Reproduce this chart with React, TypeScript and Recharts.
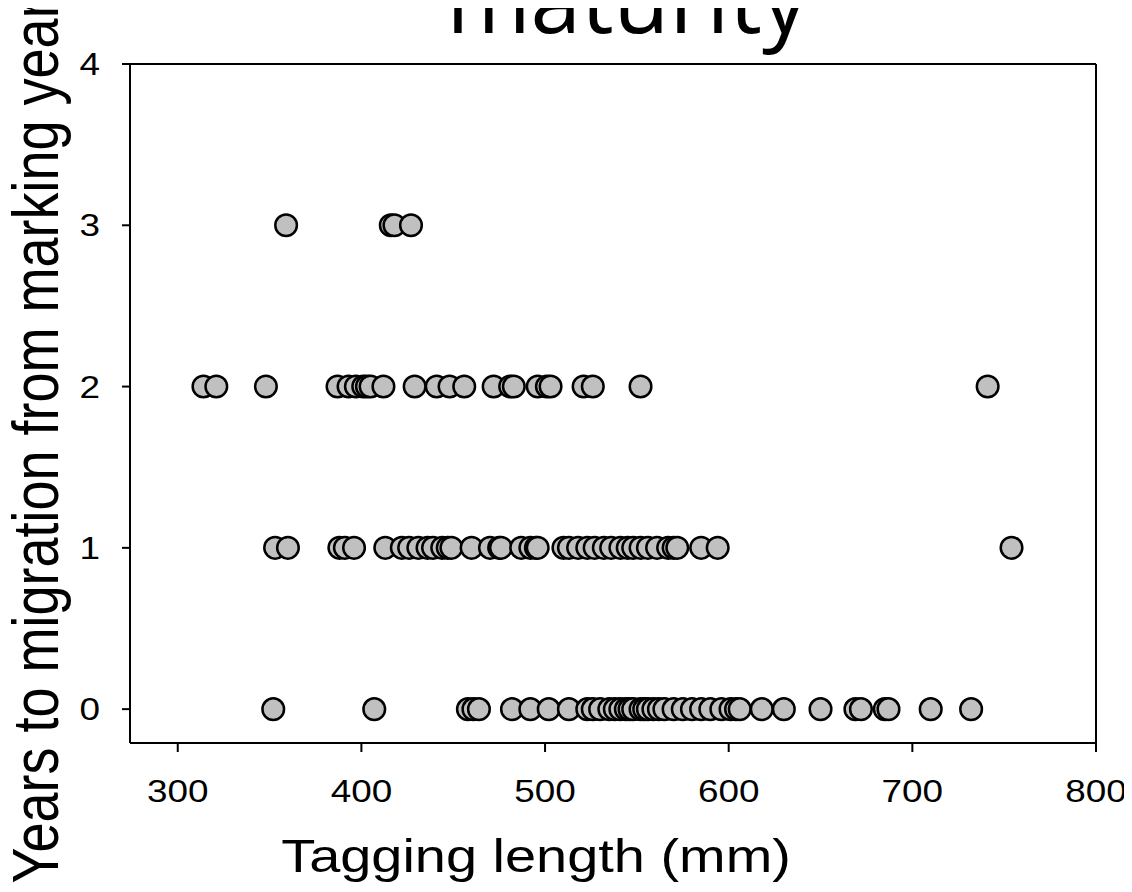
import React from 'react';
import {
  ScatterChart,
  Scatter,
  XAxis,
  YAxis,
  ReferenceLine,
} from 'recharts';

// tagging length (mm) of fish, grouped by years to migration
const lengthsYear0 = [
  352, 407, 458, 461, 464, 482, 492, 502, 513, 523, 526, 530, 535, 538, 541, 544,
  546, 548, 552, 554, 556, 559, 562, 565, 570, 575, 580, 585, 590, 596, 601, 604,
  606, 618, 630, 650, 669, 672, 685, 687, 710, 732,
];
const lengthsYear1 = [
  353, 360, 388, 391, 396, 413, 422, 426, 431, 436, 439, 444, 447, 449, 460, 470,
  475, 476, 487, 492, 495, 496, 510, 513, 518, 523, 527, 532, 536, 541, 545, 548,
  552, 556, 561, 567, 570, 572, 585, 594, 754,
];
const lengthsYear2 = [
  314, 321, 348, 387, 393, 397, 401, 403, 405, 412, 429, 441, 448, 456, 472, 481,
  483, 496, 501, 503, 521, 526, 552, 741,
];
const lengthsYear3 = [359, 416, 418, 427];

const xTicks = [300, 400, 500, 600, 700, 800];
const yTicks = [0, 1, 2, 3, 4];

const TITLE = 'maturity';
const X_LABEL = 'Tagging length (mm)';
const Y_LABEL = 'Years to migration from marking year';

const W = 1132;
const H = 892;
const ARIAL = '"Liberation Sans", Arial, sans-serif';
const STRETCH = 1.19; // the source figure's text is drawn wide
const TICK_FONT = 31;

const toPoints = (lengths: number[], years: number) =>
  lengths.map((length) => ({ length, years }));

const data = [
  ...toPoints(lengthsYear0, 0),
  ...toPoints(lengthsYear1, 1),
  ...toPoints(lengthsYear2, 2),
  ...toPoints(lengthsYear3, 3),
].sort((a, b) => a.length - b.length);

const Dot = (props: any) => {
  const { cx, cy } = props;
  if (cx == null || cy == null) return null;
  return <circle cx={cx} cy={cy} r={10.8} fill="#c0c0c0" stroke="#000" strokeWidth={2.5} />;
};

const XTick = (props: any) => {
  const { x, y, payload } = props;
  return (
    <text
      transform={`translate(${x},${y + TICK_FONT * 0.72}) scale(${STRETCH},1)`}
      textAnchor="middle"
      fontSize={TICK_FONT}
      fontFamily={ARIAL}
      fill="#000"
    >
      {payload.value}
    </text>
  );
};

const YTick = (props: any) => {
  const { x, y, payload } = props;
  return (
    <text
      transform={`translate(${x},${y + TICK_FONT * 0.36}) scale(${STRETCH},1)`}
      textAnchor="end"
      fontSize={TICK_FONT}
      fontFamily={ARIAL}
      fill="#000"
    >
      {payload.value}
    </text>
  );
};

const App: React.FC = () => {
  return (
    <div style={{ position: 'relative', width: W, height: H, margin: '-8px 0 0 -8px', background: '#fff', overflow: 'hidden' }}>
      <ScatterChart
        width={W}
        height={H}
        margin={{ top: 64, right: 36, bottom: 89, left: 70 }}
      >
        <XAxis
          type="number"
          dataKey="length"
          domain={[274, 800]}
          ticks={xTicks}
          allowDataOverflow
          height={60}
          tickSize={9}
          tickMargin={28}
          tick={<XTick />}
          axisLine={{ stroke: '#000', strokeWidth: 2 }}
          tickLine={{ stroke: '#000', strokeWidth: 2 }}
        />
        <YAxis
          type="number"
          dataKey="years"
          domain={[-0.21, 4]}
          ticks={yTicks}
          allowDataOverflow
          width={60}
          tickSize={8}
          tickMargin={22}
          tick={<YTick />}
          axisLine={{ stroke: '#000', strokeWidth: 2 }}
          tickLine={{ stroke: '#000', strokeWidth: 2 }}
        />
        <ReferenceLine y={4} stroke="#000" strokeWidth={2} />
        <ReferenceLine x={800} stroke="#000" strokeWidth={2} />
        <Scatter data={data} shape={<Dot />} isAnimationActive={false} />
      </ScatterChart>
      <svg
        width={W}
        height={H}
        style={{ position: 'absolute', left: 0, top: 0, pointerEvents: 'none' }}
      >
        <text
          x={627}
          y={33}
          textAnchor="middle"
          fontSize={91}
          fontFamily='"Open Sans", sans-serif'
          fill="#000"
        >
          {TITLE}
        </text>
        <text
          transform={`translate(536,872) scale(${STRETCH},1)`}
          textAnchor="middle"
          fontSize={47}
          fontFamily={ARIAL}
          fill="#000"
        >
          {X_LABEL}
        </text>
        <text
          transform={`translate(58,442) rotate(-90) scale(1,${STRETCH})`}
          textAnchor="middle"
          fontSize={54}
          fontFamily={ARIAL}
          fill="#000"
        >
          {Y_LABEL}
        </text>
      </svg>
    </div>
  );
};

export default App;
